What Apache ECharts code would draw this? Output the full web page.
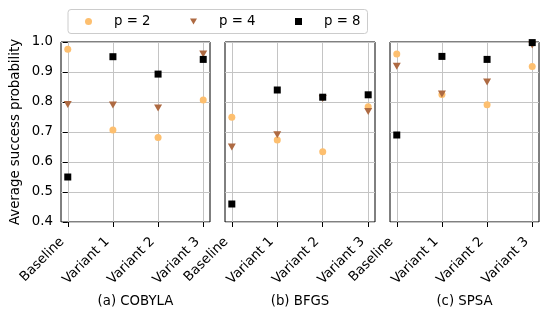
<!DOCTYPE html>
<html>
<head>
<meta charset="utf-8">
<script src="https://cdn.jsdelivr.net/npm/echarts@6/dist/echarts.min.js"></script>
<style>html,body{margin:0;padding:0;background:#fff}#c{width:560px;height:314px}</style>
</head>
<body>
<div id="c"></div>
<script>
const categories = ['Baseline', 'Variant 1', 'Variant 2', 'Variant 3'];
const panels = ['(a) COBYLA', '(b) BFGS', '(c) SPSA'];
const seriesNames = ['p = 2', 'p = 4', 'p = 8'];
const yTicks = [0.4, 0.5, 0.6, 0.7, 0.8, 0.9, 1.0];

const cobylaP2 = [0.976, 0.707, 0.682, 0.807];
const cobylaP4 = [0.792, 0.790, 0.780, 0.960];
const cobylaP8 = [0.550, 0.951, 0.893, 0.942];

const bfgsP2 = [0.749, 0.673, 0.634, 0.784];
const bfgsP4 = [0.650, 0.691, 0.812, 0.768];
const bfgsP8 = [0.460, 0.840, 0.816, 0.824];

const spsaP2 = [0.960, 0.825, 0.791, 0.918];
const spsaP4 = [0.919, 0.827, 0.867, 0.990];
const spsaP8 = [0.690, 0.952, 0.942, 0.998];

const panelData = [
  [cobylaP2, cobylaP4, cobylaP8],
  [bfgsP2, bfgsP4, bfgsP8],
  [spsaP2, spsaP4, spsaP8]
];

const colors = ['#fdbf6f', '#ae6a42', '#000000'];
const symbols = ['circle', 'path://M0,0 L2,0 L1,1.7 Z', 'rect'];
const symbolSizes = [7, [8, 7], 7];
const FONT = 'DejaVu Sans';
const FS = 13.3;
const gridColor = '#c4c4c4';

const grids = [
  {left: 61, top: 42, width: 149, height: 180},
  {left: 225, top: 42, width: 150, height: 180},
  {left: 390, top: 42, width: 149, height: 180}
].map(g => Object.assign(g, {show: true, borderColor: '#000', borderWidth: 1, backgroundColor: 'transparent'}));

const xAxes = panels.map((name, i) => ({
  type: 'value', gridIndex: i, min: -0.15, max: 3.15,
  name: name, nameLocation: 'middle', nameGap: 73,
  nameTextStyle: {fontFamily: FONT, fontSize: FS, color: '#000'},
  axisLine: {show: false},
  axisTick: {show: true, customValues: [0, 1, 2, 3], length: 5, lineStyle: {color: '#000'}},
  axisLabel: {show: true, customValues: [0, 1, 2, 3], rotate: 45, margin: 12,
    padding: [0, 8, 0, 0],
    fontFamily: FONT, fontSize: FS, color: '#000',
    formatter: v => categories[Math.round(v)]},
  splitLine: {show: false}
}));

const yAxes = panels.map((p, i) => ({
  type: 'value', gridIndex: i, min: 0.4, max: 1.0, interval: 0.1,
  name: i === 0 ? 'Average success probability' : '',
  nameLocation: 'middle', nameGap: 39,
  nameTextStyle: {fontFamily: FONT, fontSize: FS, color: '#000'},
  axisLine: {show: false},
  axisTick: {show: i === 0, length: 5, lineStyle: {color: '#000'}},
  axisLabel: {show: i === 0, margin: 8, fontFamily: FONT, fontSize: FS, color: '#000',
    formatter: v => v.toFixed(1)},
  splitLine: {show: true, lineStyle: {color: gridColor, width: 1}}
}));

const series = [];
panelData.forEach((sets, pi) => {
  sets.forEach((vals, si) => {
    const s = {
      type: 'scatter', name: seriesNames[si], xAxisIndex: pi, yAxisIndex: pi,
      symbol: symbols[si], symbolSize: symbolSizes[si], z: 2 + si,
      itemStyle: {color: colors[si], opacity: 1},
      data: vals.map((v, k) => [k, v]),
      silent: true
    };
    if (si === 0) {
      s.markLine = {
        silent: true, symbol: 'none', z: 1, animation: false,
        label: {show: false},
        lineStyle: {color: gridColor, width: 1, type: 'solid'},
        data: categories.map((c, k) => ({xAxis: k}))
      };
    }
    series.push(s);
  });
});

const chart = echarts.init(document.getElementById('c'), null, {renderer: 'canvas'});
chart.setOption({
  animation: false,
  backgroundColor: '#fff',
  color: colors,
  legend: {
    left: 68, top: 9.5,
    padding: [5, 7, 5, 17],
    itemWidth: 7, itemHeight: 7, itemGap: 39.5,
    borderColor: '#cccccc', borderWidth: 1, borderRadius: 3,
    textStyle: {fontFamily: FONT, fontSize: FS, color: '#000', padding: [0, 0, 0, 17], lineHeight: 14},
    data: seriesNames.map((n, i) => ({name: n, icon: symbols[i]}))
  },
  grid: grids,
  xAxis: xAxes,
  yAxis: yAxes,
  series: series
});
</script>
</body>
</html>
